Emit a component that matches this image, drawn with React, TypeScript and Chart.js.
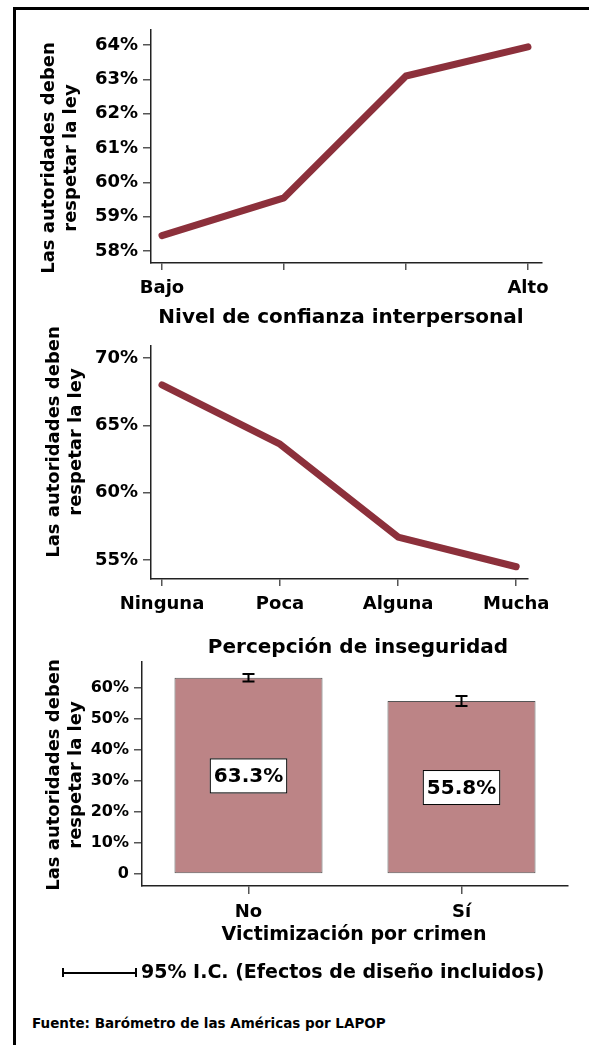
import React, { useEffect, useRef } from "react";
import { Chart, registerables } from "chart.js";

Chart.register(...registerables);

const FONT = "'DejaVu Sans', 'Liberation Sans', sans-serif";
const LINE_COLOR = "#8C303B";
const BAR_COLOR = "#BC8486";

// Panel 1: Nivel de confianza interpersonal
const trustLabels = ["Bajo", "", "", "Alto"];
const trustValues = [58.45, 59.55, 63.1, 63.95];
const trustTicks = [58, 59, 60, 61, 62, 63, 64];

// Panel 2: Percepción de inseguridad
const insecurityLabels = ["Ninguna", "Poca", "Alguna", "Mucha"];
const insecurityValues = [68.0, 63.6, 56.7, 54.5];
const insecurityTicks = [55, 60, 65, 70];

// Panel 3: Victimización por crimen
const victimLabels = ["No", "Sí"];
const victimValues = [63.3, 55.8];
const victimLow = [62.1, 54.2];
const victimHigh = [64.5, 57.4];
const victimTicks = [0, 10, 20, 30, 40, 50, 60];

const Y_TITLE = ["Las autoridades deben", "respetar la ley"];

type Pad = { top: number; right: number; bottom: number; left: number };

function lineConfig(
  labels: string[],
  values: number[],
  ticks: number[],
  xMin: number,
  xMax: number,
  yMin: number,
  yMax: number,
  pad: Pad,
  yWidth: number,
  xHeight: number
): any {
  return {
    type: "line",
    data: {
      datasets: [
        {
          data: values.map((v, i) => ({ x: i, y: v })),
          borderColor: LINE_COLOR,
          borderWidth: 7,
          borderCapStyle: "round",
          borderJoinStyle: "round",
          pointRadius: 0,
          tension: 0,
          fill: false,
        },
      ],
    },
    options: {
      animation: false,
      responsive: false,
      maintainAspectRatio: false,
      layout: { padding: pad },
      plugins: { legend: { display: false }, tooltip: { enabled: false } },
      scales: {
        x: {
          type: "linear",
          min: xMin,
          max: xMax,
          afterBuildTicks: (s: any) => {
            s.ticks = labels.map((_, i) => ({ value: i }));
          },
          afterFit: (s: any) => {
            s.height = xHeight;
            s.paddingLeft = 0;
            s.paddingRight = 0;
          },
          ticks: {
            callback: (v: any) => labels[v] ?? "",
            font: { family: FONT, size: 18, weight: "bold" },
            color: "#000",
            padding: 8,
            maxRotation: 0,
            autoSkip: false,
          },
          grid: {
            display: true,
            drawOnChartArea: false,
            drawTicks: true,
            tickLength: 7,
            color: "#555",
            lineWidth: 1.5,
          },
          border: { display: true, color: "#222", width: 1.5 },
        },
        y: {
          type: "linear",
          min: yMin,
          max: yMax,
          afterBuildTicks: (s: any) => {
            s.ticks = ticks.map((v) => ({ value: v }));
          },
          afterFit: (s: any) => {
            s.width = yWidth;
            s.paddingTop = 0;
            s.paddingBottom = 0;
          },
          ticks: {
            callback: (v: any) => `${v}%`,
            font: { family: FONT, size: 18, weight: "bold" },
            color: "#000",
            padding: 5,
            autoSkip: false,
          },
          grid: {
            display: true,
            drawOnChartArea: false,
            drawTicks: true,
            tickLength: 8,
            color: "#555",
            lineWidth: 1.5,
          },
          border: { display: true, color: "#222", width: 1.5 },
        },
      },
    },
  };
}

const errorBarsPlugin = {
  id: "errorBars",
  afterDatasetsDraw(chart: any) {
    const { ctx, scales } = chart;
    const xs = scales.x;
    const ys = scales.y;
    ctx.save();
    ctx.strokeStyle = "#000";
    ctx.lineWidth = 2;
    victimValues.forEach((_, i) => {
      const x = xs.getPixelForValue(i);
      const yl = ys.getPixelForValue(victimLow[i]);
      const yh = ys.getPixelForValue(victimHigh[i]);
      ctx.beginPath();
      ctx.moveTo(x, yl);
      ctx.lineTo(x, yh);
      ctx.moveTo(x - 6, yl);
      ctx.lineTo(x + 6, yl);
      ctx.moveTo(x - 6, yh);
      ctx.lineTo(x + 6, yh);
      ctx.stroke();
    });
    ctx.restore();
  },
};

const valueLabelsPlugin = {
  id: "valueLabels",
  afterDatasetsDraw(chart: any) {
    const { ctx, scales } = chart;
    const xs = scales.x;
    const ys = scales.y;
    ctx.save();
    ctx.font = `bold 20px ${FONT}`;
    ctx.textAlign = "center";
    ctx.textBaseline = "middle";
    victimValues.forEach((v, i) => {
      const x = xs.getPixelForValue(i);
      const y = (ys.getPixelForValue(v) + ys.getPixelForValue(0)) / 2;
      const text = `${v.toFixed(1)}%`;
      const w = ctx.measureText(text).width + 8;
      const h = 35;
      ctx.fillStyle = "#fff";
      ctx.fillRect(x - w / 2, y - h / 2, w, h);
      ctx.strokeStyle = "#000";
      ctx.lineWidth = 1;
      ctx.strokeRect(x - w / 2 + 0.5, y - h / 2 + 0.5, w - 1, h - 1);
      ctx.fillStyle = "#000";
      ctx.fillText(text, x, y + 1);
    });
    ctx.restore();
  },
};

function barConfig(): any {
  return {
    type: "bar",
    data: {
      labels: victimLabels,
      datasets: [
        {
          data: victimValues,
          backgroundColor: BAR_COLOR,
          borderColor: "#555",
          borderWidth: 1,
          borderSkipped: false,
          barPercentage: 0.695,
          categoryPercentage: 1,
        },
      ],
    },
    options: {
      animation: false,
      responsive: false,
      maintainAspectRatio: false,
      layout: { padding: { top: 22, right: 21, bottom: 0, left: 0 } },
      plugins: { legend: { display: false }, tooltip: { enabled: false } },
      scales: {
        x: {
          offset: true,
          afterFit: (s: any) => {
            s.height = 44;
            s.paddingLeft = 0;
            s.paddingRight = 0;
          },
          ticks: {
            font: { family: FONT, size: 18, weight: "bold" },
            color: "#000",
            padding: 8,
            maxRotation: 0,
            autoSkip: false,
          },
          grid: {
            display: true,
            offset: false,
            drawOnChartArea: false,
            drawTicks: true,
            tickLength: 8,
            color: "#555",
            lineWidth: 1.5,
          },
          border: { display: true, color: "#222", width: 1.5 },
        },
        y: {
          type: "linear",
          min: -3.87,
          max: 68.4,
          afterBuildTicks: (s: any) => {
            s.ticks = victimTicks.map((v) => ({ value: v }));
          },
          afterFit: (s: any) => {
            s.width = 142;
            s.paddingTop = 0;
            s.paddingBottom = 0;
          },
          ticks: {
            callback: (v: any) => (v === 0 ? "0" : `${v}%`),
            font: { family: FONT, size: 16, weight: "bold" },
            color: "#000",
            padding: 5,
            autoSkip: false,
          },
          grid: {
            display: true,
            drawOnChartArea: false,
            drawTicks: true,
            tickLength: 8,
            color: "#555",
            lineWidth: 1.5,
          },
          border: { display: true, color: "#222", width: 1.5 },
        },
      },
    },
    plugins: [errorBarsPlugin, valueLabelsPlugin],
  };
}

function ChartBox({ top, height, config }: { top: number; height: number; config: () => any }) {
  const ref = useRef<HTMLCanvasElement | null>(null);
  useEffect(() => {
    if (!ref.current) return;
    const chart = new Chart(ref.current, config());
    return () => chart.destroy();
  }, []);
  return (
    <canvas
      ref={ref}
      width={589}
      height={height}
      style={{ position: "absolute", left: 0, top, width: 589, height }}
    />
  );
}

function YTitle({ cx, cy }: { cx: number; cy: number }) {
  return (
    <div
      style={{
        position: "absolute",
        left: cx,
        top: cy,
        width: 280,
        height: 44,
        transform: "translate(-50%, -50%) rotate(-90deg)",
        fontFamily: FONT,
        fontWeight: "bold",
        fontSize: 18,
        lineHeight: "22px",
        textAlign: "center",
        color: "#000",
        whiteSpace: "nowrap",
      }}
    >
      <div>{Y_TITLE[0]}</div>
      <div>{Y_TITLE[1]}</div>
    </div>
  );
}

function Text({
  text,
  x,
  baseline,
  size,
  align = "center",
}: {
  text: string;
  x: number;
  baseline: number;
  size: number;
  align?: "center" | "left";
}) {
  const top = baseline - 0.846 * size;
  const style: any = {
    position: "absolute",
    top,
    fontFamily: FONT,
    fontWeight: "bold",
    fontSize: size,
    lineHeight: `${size}px`,
    color: "#000",
    whiteSpace: "nowrap",
  };
  if (align === "center") {
    style.left = x - 300;
    style.width = 600;
    style.textAlign = "center";
  } else {
    style.left = x;
  }
  return <div style={style}>{text}</div>;
}

export default function App() {
  return (
    <div
      style={{
        position: "fixed",
        left: 0,
        top: 0,
        width: 589,
        height: 1045,
        background: "#fff",
        overflow: "hidden",
      }}
    >
      <div
        style={{
          position: "absolute",
          left: 13,
          top: 7,
          width: 600,
          height: 1100,
          borderLeft: "3px solid #000",
          borderTop: "3px solid #000",
        }}
      />
      <ChartBox
        top={0}
        height={300}
        config={() =>
          lineConfig(
            trustLabels,
            trustValues,
            trustTicks,
            -0.09,
            3.115,
            57.65,
            64.44,
            { top: 30, right: 47, bottom: 0, left: 0 },
            151,
            37
          )
        }
      />
      <ChartBox
        top={300}
        height={330}
        config={() =>
          lineConfig(
            insecurityLabels,
            insecurityValues,
            insecurityTicks,
            -0.093,
            3.1,
            53.59,
            70.89,
            { top: 46, right: 61, bottom: 0, left: 0 },
            151,
            51
          )
        }
      />
      <ChartBox top={640} height={290} config={barConfig} />

      <YTitle cx={58.5} cy={158} />
      <YTitle cx={63.5} cy={442} />
      <YTitle cx={64} cy={775} />

      <Text text="Nivel de confianza interpersonal" x={341} baseline={322.5} size={20} />
      <Text text="Percepción de inseguridad" x={358} baseline={652.5} size={20} />
      <Text text="Victimización por crimen" x={354} baseline={940} size={19} />

      <div style={{ position: "absolute", left: 62, top: 971.5, width: 75, height: 2, background: "#000" }} />
      <div style={{ position: "absolute", left: 62, top: 968, width: 2, height: 9, background: "#000" }} />
      <div style={{ position: "absolute", left: 135, top: 968, width: 2, height: 9, background: "#000" }} />
      <Text text="95% I.C. (Efectos de diseño incluidos)" x={141} baseline={978.5} size={19} align="left" />
      <Text text="Fuente: Barómetro de las Américas por LAPOP" x={32} baseline={1028} size={13.5} align="left" />
    </div>
  );
}
